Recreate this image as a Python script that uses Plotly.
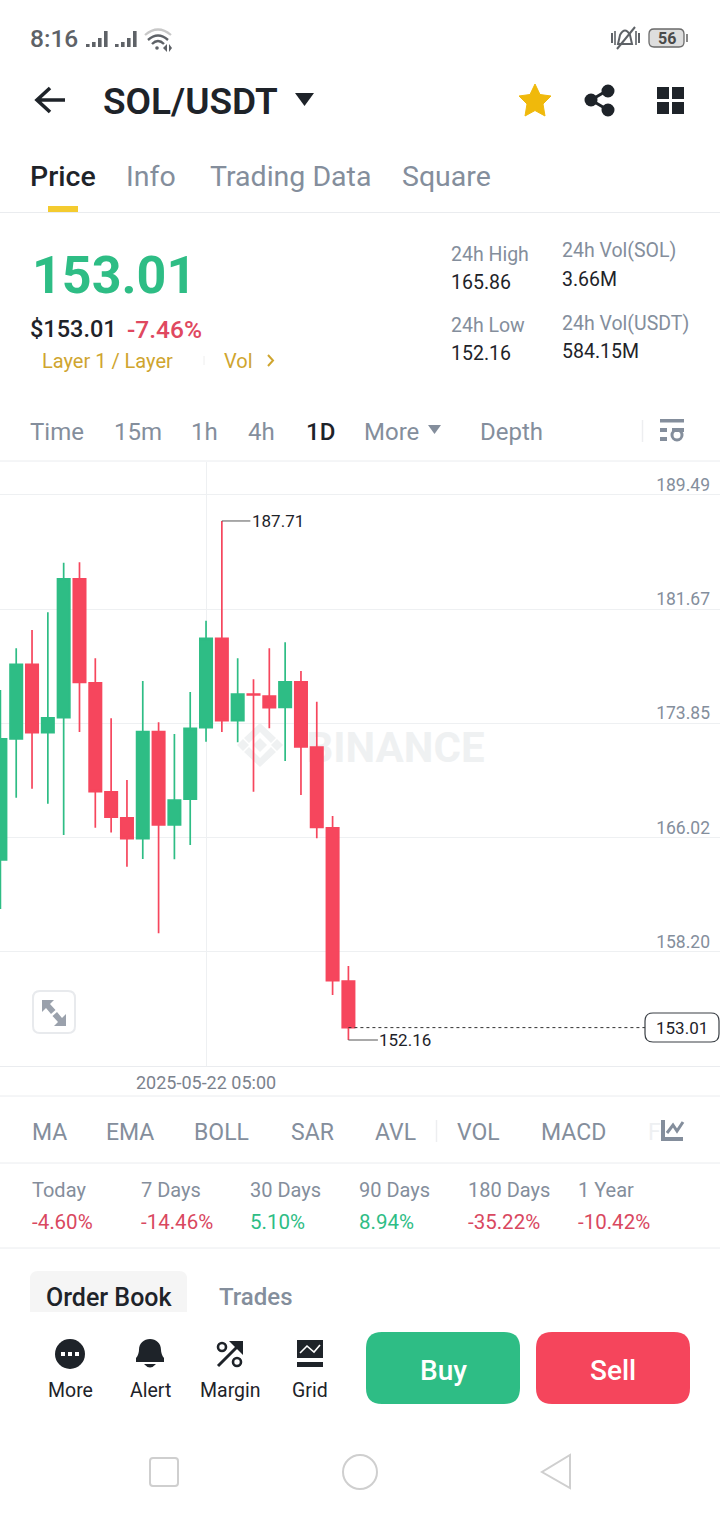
import plotly.graph_objects as go

# ---- chart data ----
dates = ["2025-05-%02d" % d for d in range(9, 32)]
opens = [164.49,172.78,177.89,173.21,174.24,183.74,176.63,169.15,167.38,165.95,173.28,166.89,168.65,173.55,179.67,174.03,175.86,175.72,174.95,176.70,172.23,166.70,156.20]
highs = [176.13,178.99,180.24,181.46,184.85,184.88,178.30,174.20,169.97,176.75,173.92,173.12,176.00,180.88,187.71,178.30,176.87,178.99,179.40,177.43,175.33,167.50,157.23]
lows = [161.13,168.76,169.37,168.35,166.20,173.26,166.70,166.38,164.03,164.56,159.47,164.54,165.52,172.59,173.26,172.55,169.17,173.51,171.27,168.94,165.98,155.24,152.16]
closes = [172.78,177.89,173.21,174.22,183.74,176.66,169.17,167.43,165.95,173.28,166.89,168.60,173.51,179.67,174.03,175.86,175.79,174.92,176.70,172.23,166.73,156.22,153.01]
price_ticks = [189.49,181.67,173.85,166.02,158.20,150.38]
cursor_date = "2025-05-22"
cursor_label = "2025-05-22 05:00"
last_price = 153.01

tabs = [("Price",30,True),("Info",126,False),("Trading Data",210,False),("Square",402,False)]
intervals = [("Time",30),("15m",114),("1h",191),("4h",248),("1D",306),("More",364),("Depth",480)]
indicators = [("MA",32),("EMA",106),("BOLL",194),("SAR",291),("AVL",375),("VOL",457),("MACD",541)]
period_names = ["Today","7 Days","30 Days","90 Days","180 Days","1 Year"]
period_values = ["-4.60%","-14.46%","5.10%","8.94%","-35.22%","-10.42%"]
period_x = [32,141,250,359,468,578]
stats = [("24h High","165.86",451,254,282),("24h Vol(SOL)","3.66M",562,250,279),
         ("24h Low","152.16",451,325,353),("24h Vol(USDT)","584.15M",562,323,351)]
actions = [("More",70),("Alert",150),("Margin",230),("Grid",310)]

GREEN="#2EBD85"; RED="#F6465D"; DARK="#1E2329"; GRAY="#848E9C"; LINE="#EAECEF"; GOLD="#CFA52F"
FONT="Roboto"

shapes=[]; notes=[]
def T(s,x,y,size,color=DARK,weight=400,anchor="left",family=FONT):
    notes.append(dict(text=s,x=x-2 if anchor=="left" else x,y=y,xref="x",yref="y",showarrow=False,xanchor=anchor,yanchor="middle",
                      font=dict(family=family,size=size,color=color,weight=weight)))
def P(path,fill=None,line=None,w=0,layer="above"):
    d=dict(type="path",path=path,xref="x",yref="y",layer=layer,line=dict(width=w,color=line or "rgba(0,0,0,0)"))
    if fill: d["fillcolor"]=fill
    shapes.append(d)
def R(x0,y0,x1,y1,fill=None,line=None,w=0,layer="above"):
    shapes.append(dict(type="rect",x0=x0,y0=y0,x1=x1,y1=y1,xref="x",yref="y",layer=layer,
                       fillcolor=fill or "rgba(0,0,0,0)",line=dict(width=w,color=line or "rgba(0,0,0,0)")))
def L(x0,y0,x1,y1,color=LINE,w=1,dash="solid"):
    shapes.append(dict(type="line",x0=x0,y0=y0,x1=x1,y1=y1,xref="x",yref="y",line=dict(color=color,width=w,dash=dash)))
def C(cx,cy,r,fill=None,line=None,w=0):
    shapes.append(dict(type="circle",x0=cx-r,y0=cy-r,x1=cx+r,y1=cy+r,xref="x",yref="y",
                       fillcolor=fill or "rgba(0,0,0,0)",line=dict(width=w,color=line or "rgba(0,0,0,0)")))
def RR(x0,y0,x1,y1,r,fill=None,line=None,w=0):
    P(f"M{x0+r},{y0} L{x1-r},{y0} Q{x1},{y0} {x1},{y0+r} L{x1},{y1-r} Q{x1},{y1} {x1-r},{y1} L{x0+r},{y1} Q{x0},{y1} {x0},{y1-r} L{x0},{y0+r} Q{x0},{y0} {x0+r},{y0} Z",fill,line,w)

# status bar
T("8:16",30,38.5,24.5,"#5E6267",500)
for ox in (86,115):
    for dx,top in zip((0,6,12,18),(44,42,38,31)):
        R(ox+dx,top,ox+dx+3.6,47,"#5E6267")
P("M145,35 Q158,24 171,35",None,"#C8C8C8",2.2)
P("M148,40 Q158,31 168,40",None,"#5E6267",2.4)
P("M152,44 Q158,38 164,44",None,"#5E6267",2.4)
C(157,48,1.8,"#5E6267")
P("M163,48 L167,44 L167,52 Z","#5E6267"); P("M169,44 L172,48 L169,52 Z","#5E6267")
P("M618,44 L620,35 Q625,26 630,35 L632,44 Z","#FFFFFF","#5E6267",2)
L(617,49,635,27,"#5E6267",2)
L(612,33,612,43,"#5E6267",2); L(615,31,615,45,"#5E6267",1.6)
L(636,31,636,45,"#5E6267",1.6); L(639,33,639,43,"#5E6267",2)
RR(649,29,684,47,5,"#DEDEDE","#6A6A6A",1.3)
L(687,34,687,42,"#6A6A6A",1.6)
T("56",666.5,38.5,16,"#4A4A4A",700,"center")

# header
P("M37,100 L65,100 M50,88 L37,100 L50,112",None,DARK,3.6)
T("SOL/USDT",103,101,37,DARK,600)
P("M295,93 L314,93 L304.5,106 Z",DARK)
P("M535,84 L540,94.5 L551,96 L543,104 L545,116 L535,110.5 L525,116 L527,104 L519,96 L530,94.5 Z","#F0B90B","#F0B90B",1)
L(591,100,608,90,DARK,3); L(591,100,608,110,DARK,3)
C(591,100,6.5,DARK); C(608,91,6.5,DARK); C(608,110,6.5,DARK)
for x0 in (657,672):
    for y0 in (87,102):
        R(x0,y0,x0+12,y0+12,DARK)

# tabs
for s,x,on in tabs:
    T(s,x,176,28.5,DARK if on else GRAY,500 if on else 400)
R(48,206,78,212,"#F4CB2F")
L(0,212.5,720,212.5)

# price block
T("153.01",32,275,52,GREEN,700)
T("$153.01",30,329,23.5,DARK,500)
T("-7.46%",127,329,24.5,"#E0485F",500)
T("Layer 1 / Layer",42,361,20,GOLD)
L(204,356,204,365,"#EEEEEE",1)
T("Vol",224,361,20,GOLD)
P("M268,355 L273,360.5 L268,366",None,GOLD,2)
for name,val,x,y1,y2 in stats:
    T(name,x,y1,19.5,GRAY); T(val,x,y2,19.5,DARK,400)

# interval row
for s,x in intervals:
    T(s,x,432,24,DARK if s=="1D" else GRAY,500 if s=="1D" else 400)
P("M428,425 L441,425 L434.5,434 Z",GRAY)
L(642.5,420,642.5,442,"#EDEEF0",1.5)
R(660,419,684,422.5,GRAY); R(660,428,667,432,GRAY); R(660,437,667,441,GRAY); R(672,428,684,432,GRAY)
C(677,435,5,None,GRAY,3)
L(0,461,720,461)

# watermark
logo="#EFF1F2"
for cx,cy,r in ((260,745,7),(243,745,6),(277,745,6)):
    P(f"M{cx-r},{cy} L{cx},{cy-r} L{cx+r},{cy} L{cx},{cy+r} Z",logo,layer="below")
P("M260,723 L276,738 L271,743 L260,732 L249,743 L244,738 Z",logo,layer="below")
P("M260,767 L276,752 L271,747 L260,758 L249,747 L244,752 Z",logo,layer="below")

# expand button
RR(33,991,75,1033,7,"#FFFFFF","#E8EAED",2)
P("M42,1000 L54,1000 L50,1004 L55.5,1010 L51,1014 L46,1008 L42,1012 Z","#9AA1AC")
P("M66,1026 L54,1026 L58,1022 L52.5,1016 L57,1012 L62,1018 L66,1014 Z","#9AA1AC")

# indicators
for s,x in indicators:
    T(s,x,1132,23,GRAY)
T("F",648,1132,23,"#EEF0F2")
L(436.5,1120,436.5,1142,"#EDEEF0",1.5)
P("M663,1120 L663,1139 L683,1139",None,GRAY,4)
P("M667,1133 L673,1125 L677,1131 L683,1122",None,GRAY,3)
L(0,1096,720,1096); L(0,1163,720,1163)

# period stats
for n,v,x in zip(period_names,period_values,period_x):
    T(n,x,1190,20,GRAY)
    T(v,x,1222,20.5,"#D9485F" if v.startswith("-") else GREEN,400)
L(0,1248,720,1248)

# order book tabs
P("M30,1312 L30,1279 Q30,1271 38,1271 L179,1271 Q187,1271 187,1279 L187,1312 Z","#F5F5F5")
T("Order Book",46,1297,25,DARK,500)
T("Trades",219,1297,24,GRAY,500)

# bottom actions
C(70,1354,15,DARK)
for dx in (-7,0,7):
    R(70+dx-2,1352,70+dx+2,1356,"#FFFFFF")
P("M136,1362 L136,1358 C138,1356 139,1352 139,1350 C139,1343 144,1339 150,1339 C156,1339 161,1343 161,1350 C161,1352 162,1356 164,1358 L164,1362 Z",DARK)
P("M144,1364 L156,1364 Q150,1371 144,1364 Z",DARK)
C(222,1347,4,None,DARK,2.6); C(237,1362,4,None,DARK,2.6)
L(218,1366,239,1345,DARK,3)
P("M229,1341 L243,1341 L243,1355 Z",DARK)
R(297,1340,323,1358,DARK)
R(297,1362,323,1367,DARK)
P("M300,1353 L307,1346 L314,1352 L320,1345",None,"#FFFFFF",1.6)
for s,x in actions:
    T(s,x,1390,19.5,DARK,400,"center")
RR(366,1332,520,1404,16,GREEN)
RR(536,1332,690,1404,16,"#F5455C")
T("Buy",443,1370,28,"#FFFFFF",500,"center")
T("Sell",613,1370,28,"#FFFFFF",500,"center")

# nav bar
RR(150,1458,178,1486,3,None,"#CFCFCF",2)
C(360,1472,17,None,"#CFCFCF",2)
P("M570,1455 L570,1488 L542,1472 Z",None,"#CFCFCF",2)

fig=go.Figure()
# pixel-coordinate overlay axes hold the app chrome; drawn first so the watermark sits under candles
fig.add_trace(go.Scatter(x=[395.5],y=[751],mode="text",text=["BINANCE"],xaxis="x",yaxis="y",
    textfont=dict(family=FONT,size=42,color="#EFF1F2",weight=700),hoverinfo="skip",showlegend=False))
fig.add_trace(go.Candlestick(x=dates,open=opens,high=highs,low=lows,close=closes,xaxis="x2",yaxis="y2",
    increasing=dict(line=dict(color=GREEN,width=1.7),fillcolor=GREEN),
    decreasing=dict(line=dict(color=RED,width=1.7),fillcolor=RED),
    whiskerwidth=0,showlegend=False))

# markers tied to the data
notes.append(dict(text=f"{max(highs):.2f}",x=dates[highs.index(max(highs))],y=max(highs),xref="x2",yref="y2",
    showarrow=True,arrowhead=0,arrowwidth=1,arrowcolor="#555",ax=56,ay=0,standoff=0,
    font=dict(family=FONT,size=17,color=DARK)))
notes.append(dict(text=f"{min(lows):.2f}",x=dates[lows.index(min(lows))],y=min(lows),xref="x2",yref="y2",
    showarrow=True,arrowhead=0,arrowwidth=1,arrowcolor="#555",ax=57,ay=0,standoff=0,
    font=dict(family=FONT,size=17,color=DARK)))
shapes.append(dict(type="line",x0=dates[-1],x1=645,xref="x2",y0=last_price,y1=last_price,yref="y2",
    line=dict(color="#333",width=1,dash="3px,3px")))
# last-price pill: the x is in page px, the y comes from the data
RR(645,1013,719,1042,8,"#FFFFFF","#3A3F45",1.2)
notes.append(dict(text=f"{last_price:.2f}",x=682,xref="x",y=last_price,yref="y2",showarrow=False,
    font=dict(family=FONT,size=17,color=DARK)))

TOP,BOT=462,1066
ppu=14.6
fig.update_layout(width=720,height=1520,margin=dict(l=0,r=0,t=0,b=0),paper_bgcolor="#FFFFFF",plot_bgcolor="rgba(0,0,0,0)",
    showlegend=False,boxgap=0.22,boxgroupgap=0,shapes=shapes,annotations=notes,
    xaxis=dict(range=[0,720],domain=[0,1],visible=False,fixedrange=True,anchor="y"),
    yaxis=dict(range=[1520,0],domain=[0,1],visible=False,fixedrange=True,anchor="x"),
    xaxis2=dict(type="category",range=[-0.025,45.49],domain=[0,1],anchor="y2",rangeslider=dict(visible=False),
        tickmode="array",tickvals=[cursor_date],ticktext=[cursor_label],ticks="",showgrid=True,gridcolor="#EEF0F2",gridwidth=1,
        showline=True,linecolor=LINE,linewidth=1,zeroline=False,tickfont=dict(family=FONT,size=18,color="#7B828D"),fixedrange=True),
    yaxis2=dict(range=[150.38,150.38+(BOT-TOP)/ppu],domain=[1-BOT/1520,1-TOP/1520],anchor="x2",side="right",
        tickmode="array",tickvals=price_ticks,tickformat=".2f",ticks="",ticklabelposition="inside",ticklabelstandoff=7,ticklabelshift=-10,
        showgrid=True,gridcolor="#EEF0F2",gridwidth=1,zeroline=False,showline=False,
        tickfont=dict(family=FONT,size=17.5,color=GRAY),fixedrange=True))

fig.write_html("out.html",config=dict(displayModeBar=False,staticPlot=False),
    post_script="document.body.style.margin='0';document.body.style.overflow='hidden';")
